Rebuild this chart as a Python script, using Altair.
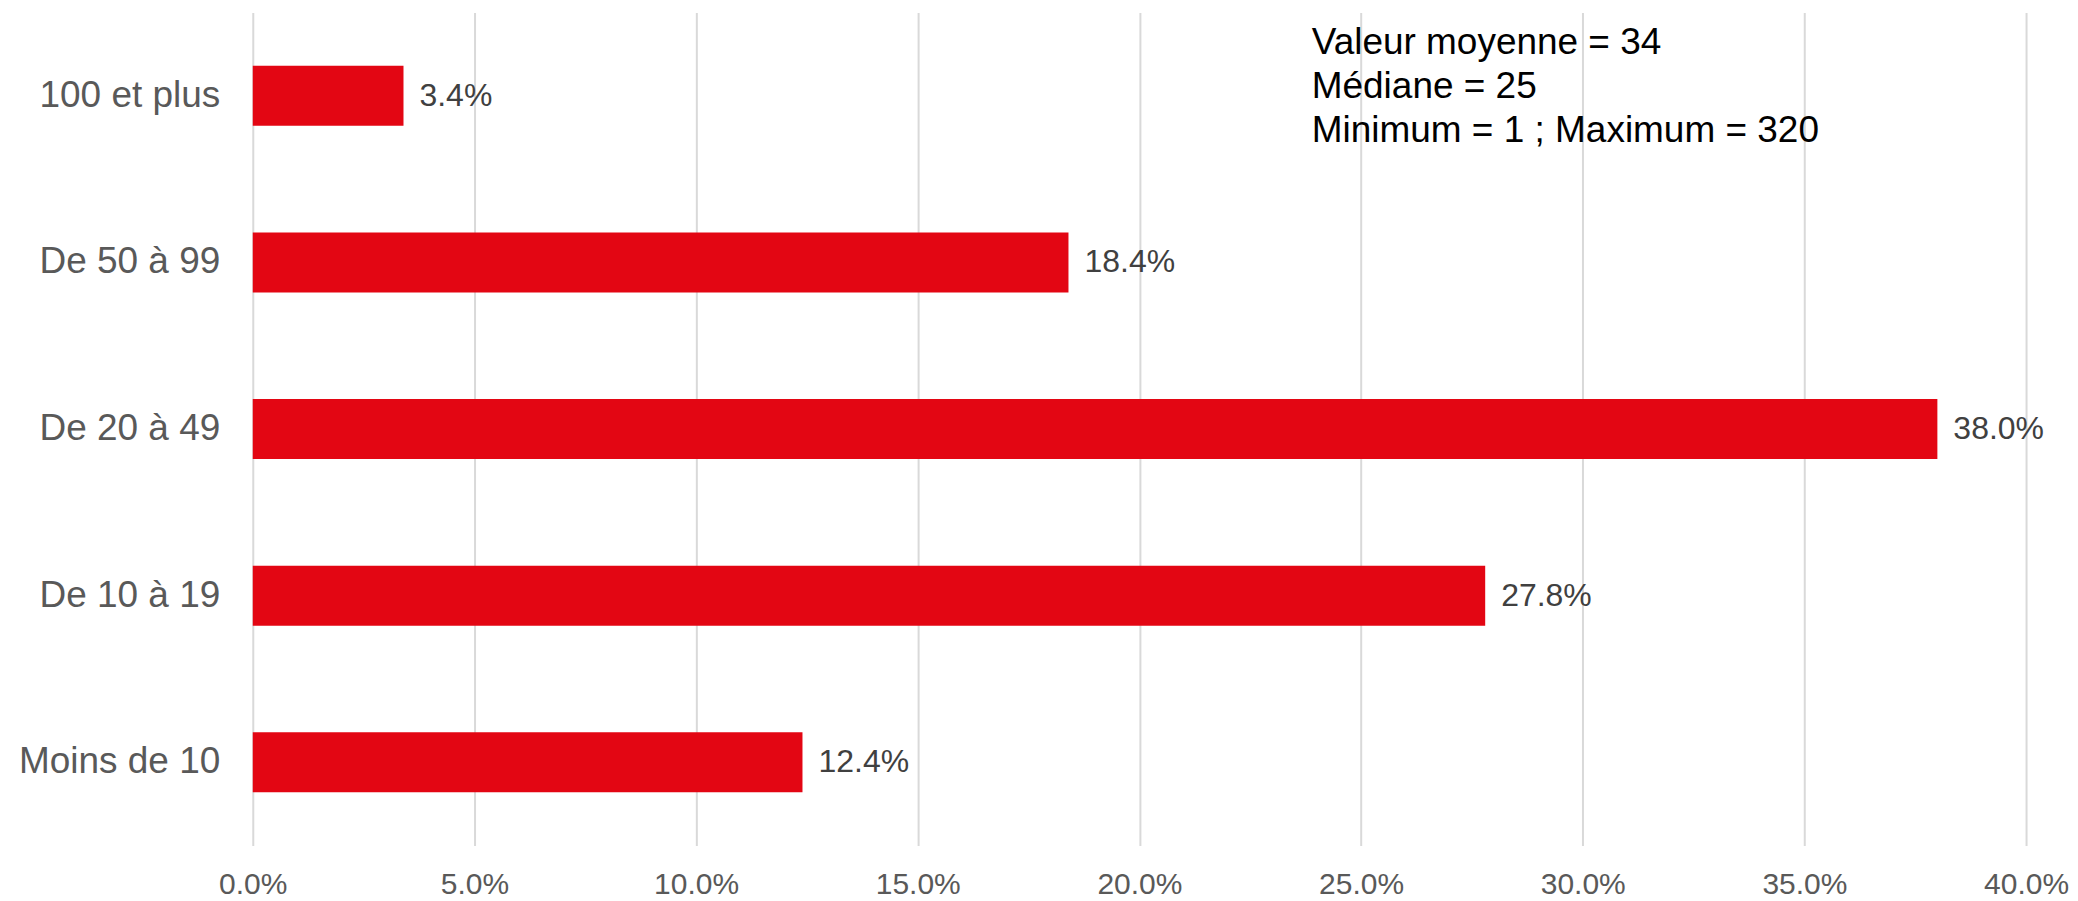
import altair as alt
import pandas as pd

categories = ["100 et plus", "De 50 à 99", "De 20 à 49", "De 10 à 19", "Moins de 10"]
values = [3.4, 18.4, 38.0, 27.8, 12.4]
stats_lines = ["Valeur moyenne = 34", "Médiane = 25", "Minimum = 1 ; Maximum = 320"]

df = pd.DataFrame({"cat": categories, "val": [v / 100 for v in values]})
df["label"] = [f"{v:.1f}%" for v in values]
ann = pd.DataFrame({"txt": ["\n".join(stats_lines)]})

FONT = "Liberation Sans"
W, H = 1775, 834

x_enc = alt.X("val:Q",
              scale=alt.Scale(domain=[0, 0.4], nice=False, zero=True),
              axis=alt.Axis(format=".1%", values=[0, 0.05, 0.1, 0.15, 0.2, 0.25, 0.3, 0.35, 0.4],
                            title=None, domain=False, ticks=False, grid=True,
                            gridColor="#D9D9D9", gridWidth=2,
                            labelFont=FONT, labelFontSize=30, labelColor="#595959",
                            labelPadding=24, labelFlush=False))
y_enc = alt.Y("cat:N", sort=categories,
              scale=alt.Scale(paddingInner=0.64, paddingOuter=0.32),
              axis=alt.Axis(title=None, domain=False, ticks=False, grid=False,
                            labelFont=FONT, labelFontSize=37, labelColor="#595959",
                            labelPadding=33, labelLimit=0))

bars = alt.Chart(df).mark_bar(color="#E30613").encode(x=x_enc, y=y_enc)

texts = alt.Chart(df).mark_text(align="left", baseline="middle", dx=16,
                                font=FONT, fontSize=32, color="#404040").encode(
    x="val:Q", y=alt.Y("cat:N", sort=categories), text="label:N")

annot = alt.Chart(ann).mark_text(align="left", baseline="alphabetic", font=FONT,
                                 fontSize=37, lineHeight=44, lineBreak="\n",
                                 color="#000000").encode(
    x=alt.value(1060), y=alt.value(42), text="txt:N")

chart = alt.layer(bars, texts, annot).properties(
    width=W, height=H,
    autosize=alt.AutoSizeParams(type="none"),
    padding={"left": 245, "top": 4, "right": 44, "bottom": 56},
).configure_view(stroke=None)

chart.save("out.html", embed_options={"renderer": "svg", "actions": False})
